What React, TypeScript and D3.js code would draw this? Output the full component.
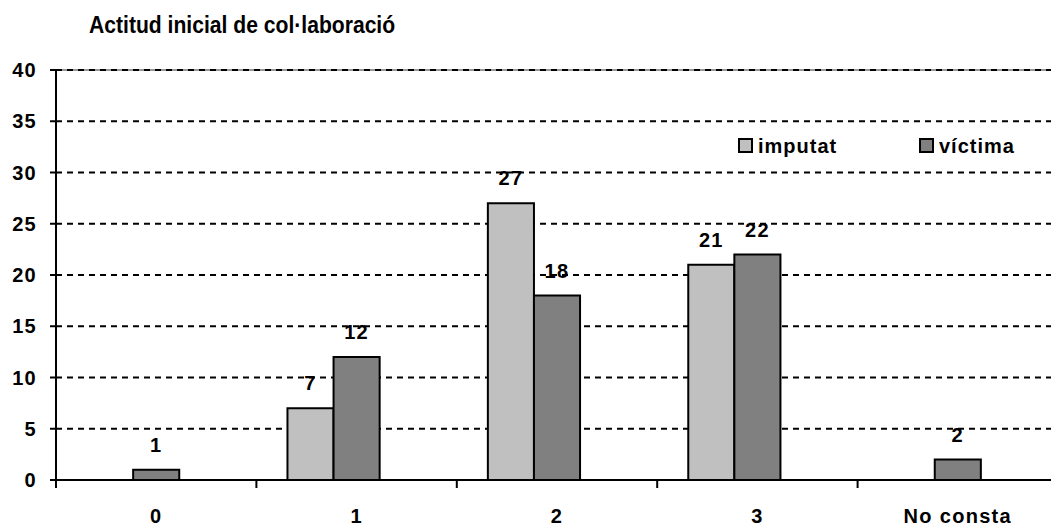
import React from "react";
import * as d3 from "d3";

const categories = ["0", "1", "2", "3", "No consta"];
const imputat = [0, 7, 27, 21, 0];
const victima = [1, 12, 18, 22, 2];
const yTicks = [0, 5, 10, 15, 20, 25, 30, 35, 40];
const seriesNames = ["imputat", "víctima"];
const title = "Actitud inicial de col·laboració";

const W = 1051, H = 526;
const left = 56, top = 70, bottom = 480;
const FONT = "'Liberation Sans', Arial, sans-serif";
const FS = 20;
const LS = 1.3;

export default function App() {
  const x = d3.scaleBand<string>().domain(categories).range([left, left + 5 * 200.4]).padding(0);
  const sub = d3.scaleBand<number>().domain([0, 1, 2]).range([0, x.bandwidth()]).paddingInner(0).paddingOuter(31 / 46);
  const y = d3.scaleLinear().domain([0, 40]).range([bottom, top]);
  const colors = ["#C0C0C0", "#808080"];
  const series = [imputat, victima];

  return (
    <svg width={W} height={H} style={{ display: "block", position: "absolute", left: 0, top: 0 }} fontFamily={FONT}>
      <rect width={W} height={H} fill="#fff" />
      <text transform="translate(89,33) scale(0.88,1)" fontSize={24} fontWeight="bold">{title}</text>
      <line x1={left} x2={W} y1={y(40)} y2={y(40)} stroke="#999" strokeWidth={2} />
      {yTicks.filter(t => t > 0).map(t => (
        <line key={t} x1={left} x2={W} y1={y(t)} y2={y(t)} stroke="#000" strokeWidth={2} strokeDasharray="6,5" />
      ))}
      {series.map((vals, si) =>
        categories.map((c, ci) => vals[ci] > 0 ? (
          <g key={si + "-" + ci}>
            <rect x={(x(c) as number) + (sub(si) as number)} y={y(vals[ci])} width={sub.bandwidth()} height={bottom - y(vals[ci])}
              fill={colors[si]} stroke="#000" strokeWidth={2} />
            <text x={(x(c) as number) + (sub(si) as number) + sub.bandwidth() / 2} y={y(vals[ci]) - 18}
              textAnchor="middle" fontSize={FS} fontWeight="bold" letterSpacing={LS}>{vals[ci]}</text>
          </g>
        ) : null)
      )}
      <line x1={left} x2={left} y1={top} y2={bottom + 8} stroke="#000" strokeWidth={2} />
      <line x1={left} x2={W} y1={bottom} y2={bottom} stroke="#000" strokeWidth={2} />
      {yTicks.map(t => (
        <g key={t}>
          <line x1={left - 6} x2={left} y1={y(t)} y2={y(t)} stroke="#000" strokeWidth={2} />
          <text x={37} y={y(t) + 7} textAnchor="end" fontSize={FS} fontWeight="bold" letterSpacing={LS}>{t}</text>
        </g>
      ))}
      {categories.map((c, i) => (
        <g key={c}>
          {i > 0 && <line x1={x(c) as number} x2={x(c) as number} y1={bottom} y2={bottom + 8} stroke="#000" strokeWidth={2} />}
          <text x={(x(c) as number) + x.bandwidth() / 2} y={523} textAnchor="middle" fontSize={FS} fontWeight="bold" letterSpacing={LS}>{c}</text>
        </g>
      ))}
      {seriesNames.map((n, i) => (
        <g key={n}>
          <rect x={739 + i * 181} y={139} width={13} height={13} fill={colors[i]} stroke="#000" strokeWidth={2} />
          <text x={758 + i * 181} y={153} fontSize={FS} fontWeight="bold" letterSpacing={1}>{n}</text>
        </g>
      ))}
    </svg>
  );
}
